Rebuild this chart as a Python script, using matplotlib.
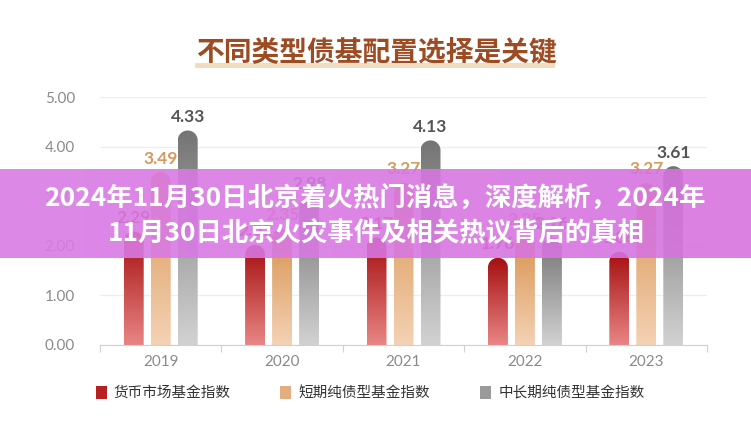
import numpy as np
import matplotlib
matplotlib.use("Agg")
import matplotlib.pyplot as plt
from matplotlib.path import Path
from matplotlib.patches import PathPatch, Rectangle, Patch
from matplotlib.colors import LinearSegmentedColormap

plt.rcParams['font.family'] = ['Noto Sans CJK SC', 'DejaVu Sans']

# ================= 데이터 =================
years = ["2019", "2020", "2021", "2022", "2023"]
series_names = ["货币市场基金指数", "短期纯债型基金指数", "中长期纯债型基金指数"]
money_market = [2.29, 2.02, 2.17, 1.76, 1.88]
short_bond = [3.49, 2.35, 3.27, 2.25, 3.27]
long_bond = [4.33, 2.98, 4.13, 2.16, 3.61]
yticks = [0, 1, 2, 3, 4, 5]

title = "不同类型债基配置选择是关键"
banner_line1 = "2024年11月30日北京着火热门消息，深度解析，2024年"
banner_line2 = "11月30日北京火灾事件及相关热议背后的真相"
# =========================================

# 그라데이션 (위 -> 아래)
grad_colors = [("#a50e0e", "#e98585"), ("#d7924f", "#f4d2b4"), ("#747474", "#d2d2d2")]
label_colors = ["#b3302c", "#d49a5e", "#555555"]
legend_colors = ["#b82020", "#e3ad80", "#9a9a9a"]

W, H = 751, 429
fig = plt.figure(figsize=(W / 100, H / 100), dpi=100)
fig.patch.set_facecolor("white")

ax_l, ax_r, ax_b, ax_t = 100, 707, 345, 97.3
ax = fig.add_axes([ax_l / W, 1 - ax_b / H, (ax_r - ax_l) / W, (ax_b - ax_t) / H])
ax.set_xlim(-0.5, len(years) - 0.5)
ax.set_ylim(0, 5)

px_x = (ax_r - ax_l) / len(years)
px_y = (ax_b - ax_t) / 5

bar_w = 20 / px_x
step = 27 / px_x
x = np.arange(len(years))


def rounded_bar(x0, w, h):
    rx = w / 2
    ry = rx * px_x / px_y
    cx = x0 + rx
    t = np.linspace(np.pi, 0, 40)
    pts = [(x0, 0), (x0, h - ry)]
    pts += list(zip(cx + rx * np.cos(t), (h - ry) + ry * np.sin(t)))
    pts += [(x0 + w, 0), (x0, 0)]
    codes = [Path.MOVETO] + [Path.LINETO] * (len(pts) - 2) + [Path.CLOSEPOLY]
    return Path(pts, codes)


grad = np.linspace(0, 1, 256).reshape(-1, 1)
for i, vals in enumerate([money_market, short_bond, long_bond]):
    cmap = LinearSegmentedColormap.from_list("g%d" % i, [grad_colors[i][1], grad_colors[i][0]])
    for xi, v in zip(x, vals):
        x0 = xi + (i - 1) * step - bar_w / 2
        patch = PathPatch(rounded_bar(x0, bar_w, v), facecolor="none", edgecolor="none")
        ax.add_patch(patch)
        im = ax.imshow(grad, extent=[x0, x0 + bar_w, 0, v], origin="lower", cmap=cmap,
                       aspect="auto", zorder=2)
        im.set_clip_path(patch)
        ax.annotate(f"{v:.2f}", (xi + (i - 1) * step, v), xytext=(0, 4), textcoords="offset points",
                    ha="center", va="bottom", fontsize=12.5, fontweight="bold",
                    color=label_colors[i], family=["Lato", "DejaVu Sans"], zorder=3)

ax.set_xlim(-0.5, len(years) - 0.5)
ax.set_ylim(0, 5)

# 축 스타일
for s in ["top", "right", "left"]:
    ax.spines[s].set_visible(False)
ax.spines["bottom"].set_color("#d0d0d0")
ax.set_yticks(yticks)
ax.set_yticklabels([f"{t:.2f}" for t in yticks], family=["Lato", "DejaVu Sans"], fontsize=11, color="#8a8a8a")
ax.tick_params(axis="y", length=0, pad=18)
ax.grid(axis="y", color="#eeeeee", linewidth=0.9, zorder=0)
ax.set_axisbelow(True)

ax.set_xticks(np.arange(-0.5, len(years)), minor=False)
ax.set_xticklabels([])
ax.tick_params(axis="x", length=5, color="#d0d0d0")
for xi, yr in zip(x, years):
    ax.text(xi, -17 / px_y, yr, ha="center", va="center", fontsize=11, color="#8a8a8a",
            family=["Lato", "DejaVu Sans"], clip_on=False)

# 범례
handles = [Patch(facecolor=c, edgecolor="none") for c in legend_colors]
fig.legend(handles, series_names, loc="center", bbox_to_anchor=(370 / W, 1 - 393 / H), ncol=3,
           frameon=False, fontsize=10.5, handlelength=0.75, handleheight=1.0, handletextpad=0.5,
           columnspacing=3.4, labelcolor="#333333")

# 제목 + 밑줄 하이라이트
fig.patches.append(Rectangle((195 / W, 1 - 68 / H), 360 / W, 5 / H, transform=fig.transFigure,
                             facecolor="#f2dcc0", edgecolor="none", zorder=0))
fig.text(376 / W, 1 - 52 / H, title, ha="center", va="center", fontsize=20, fontweight="black",
         color="#9d4b22", zorder=1)

# 배너
bax = fig.add_axes([0, 1 - 258 / H, 1, 89 / H], zorder=10)
bcmap = LinearSegmentedColormap.from_list("banner", ["#da7ce6", "#d673df"])
bax.imshow(np.linspace(0, 1, 256).reshape(1, -1), cmap=bcmap, aspect="auto", alpha=0.9,
           extent=[0, 1, 0, 1])
bax.set_xlim(0, 1)
bax.set_ylim(0, 1)
bax.axis("off")
bax.text(375 / W, 1 - (198 - 169) / 89, banner_line1, ha="center", va="center", fontsize=19,
         fontweight="bold", color="white")
bax.text(376 / W, 1 - (234 - 169) / 89, banner_line2, ha="center", va="center", fontsize=19,
         fontweight="bold", color="white")

plt.savefig("out.png", dpi=100)
